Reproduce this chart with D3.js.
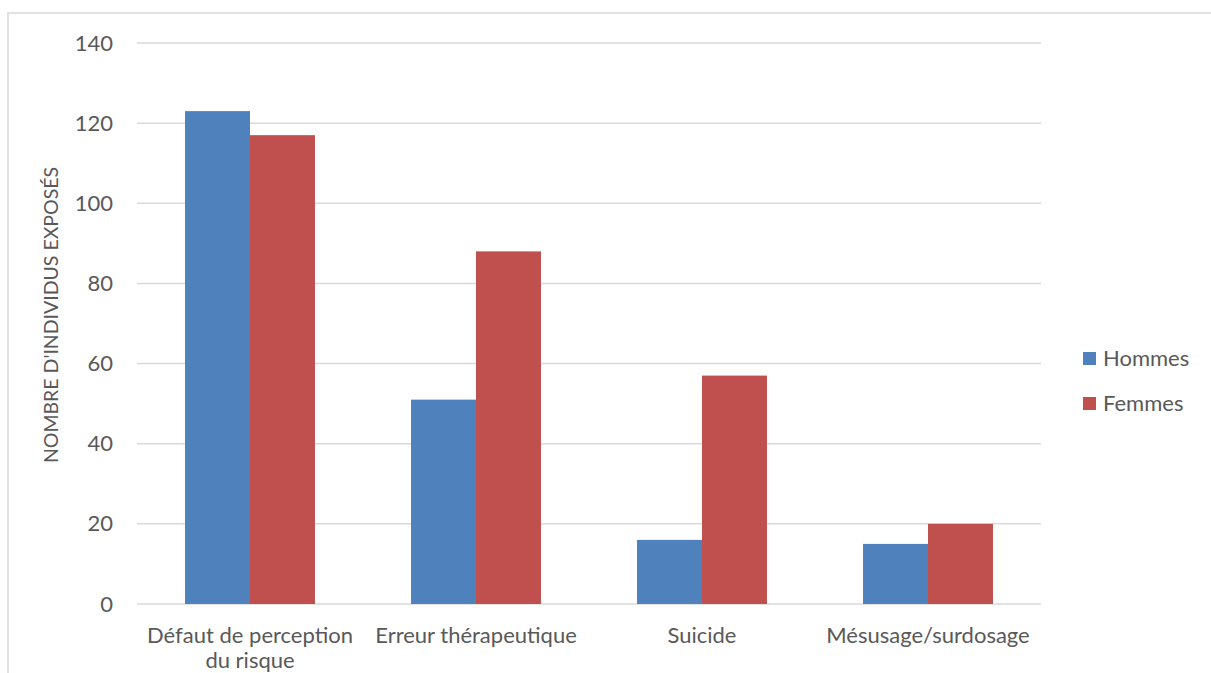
<!DOCTYPE html>
<html>
<head>
<meta charset="utf-8">
<script src="https://cdn.jsdelivr.net/npm/d3@7"></script>
<style>
  html, body { margin: 0; padding: 0; background: #fff; }
  svg { display: block; }
  text { font-family: Lato, "Open Sans", sans-serif; fill: #595959; }
</style>
</head>
<body>
<svg id="chart" width="1211" height="673"></svg>
<script>
// Causes of exposure, split by sex
const categories = [["Défaut de perception", "du risque"], ["Erreur thérapeutique"], ["Suicide"], ["Mésusage/surdosage"]];
const seriesNames = ["Hommes", "Femmes"];
const hommes = [123, 51, 16, 15];
const femmes = [117, 88, 57, 20];
const yTicks = [0, 20, 40, 60, 80, 100, 120, 140];
const yTitle = "NOMBRE D'INDIVIDUS EXPOSÉS";
const colors = ["#4f81bd", "#c0504d"];

const FONT = 'Lato, "Open Sans", sans-serif';
const LABEL_SIZE = "22px";

const svg = d3.select("#chart");
const W = 1211, H = 673;
const plot = { left: 137, right: 1041, top: 43, bottom: 604 };

// chart frame
svg.append("rect")
  .attr("x", 8).attr("y", 13)
  .attr("width", W + 10).attr("height", H + 10)
  .attr("fill", "none").attr("stroke", "#d9d9d9").attr("stroke-width", 1.5);

const catKeys = categories.map(c => c.join(" "));
const x = d3.scaleBand().domain(catKeys).range([plot.left, plot.right])
  .paddingInner(0.425).paddingOuter(0.2125);
const xs = d3.scaleBand().domain(seriesNames).range([0, x.bandwidth()]);
const y = d3.scaleLinear().domain([0, 140]).range([plot.bottom, plot.top]);

// gridlines
svg.append("g").selectAll("line").data(yTicks).join("line")
  .attr("x1", plot.left).attr("x2", plot.right)
  .attr("y1", d => y(d)).attr("y2", d => y(d))
  .attr("stroke", "#d9d9d9").attr("stroke-width", 1.5);

// y tick labels
const yAxis = svg.append("g").attr("transform", `translate(${plot.left},0)`)
  .call(d3.axisLeft(y).tickValues(yTicks).tickSize(0).tickPadding(24));
yAxis.select(".domain").remove();
yAxis.selectAll("text")
  .style("font-family", FONT)
  .style("font-size", LABEL_SIZE).attr("fill", "#595959");

// bars
const data = catKeys.map((k, i) => ({ key: k, values: [hommes[i], femmes[i]] }));
const groups = svg.append("g").selectAll("g").data(data).join("g")
  .attr("transform", d => `translate(${x(d.key)},0)`);
groups.selectAll("rect").data(d => d.values.map((v, j) => ({ s: seriesNames[j], v, j })))
  .join("rect")
  .attr("x", d => xs(d.s)).attr("width", xs.bandwidth())
  .attr("y", d => y(d.v)).attr("height", d => y(0) - y(d.v))
  .attr("fill", d => colors[d.j]);

// x category labels
const xl = svg.append("g").selectAll("text").data(categories).join("text")
  .attr("text-anchor", "middle")
  .attr("x", (d, i) => x(catKeys[i]) + x.bandwidth() / 2)
  .attr("y", 643)
  .style("font-size", LABEL_SIZE);
xl.selectAll("tspan").data(d => d).join("tspan")
  .attr("x", function () { return d3.select(this.parentNode).attr("x"); })
  .attr("dy", (d, i) => i === 0 ? 0 : 25)
  .text(d => d);

// y axis title
svg.append("text")
  .attr("transform", `translate(58, 315) rotate(-90)`)
  .attr("text-anchor", "middle")
  .style("font-size", "19.5px")
  .text(yTitle);

// legend
const legend = svg.append("g").selectAll("g").data(seriesNames).join("g")
  .attr("transform", (d, i) => `translate(1083, ${352 + i * 45})`);
legend.append("rect").attr("width", 13).attr("height", 13)
  .attr("fill", (d, i) => colors[i]);
legend.append("text").attr("x", 20).attr("y", 14)
  .style("font-size", LABEL_SIZE).text(d => d);
</script>
</body>
</html>
